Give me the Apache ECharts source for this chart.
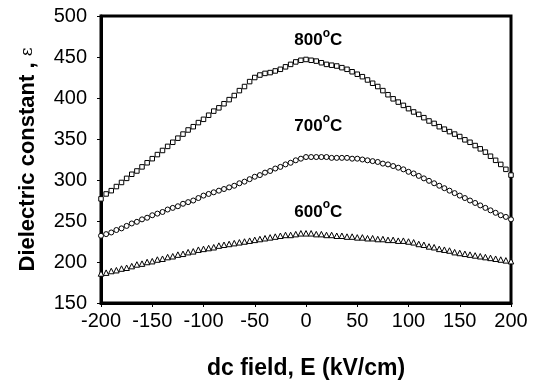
<!DOCTYPE html>
<html>
<head>
<meta charset="utf-8">
<script src="https://cdn.jsdelivr.net/npm/echarts@6/dist/echarts.min.js"></script>
<style>
  html, body { margin: 0; padding: 0; background: #fff; }
  #chart { width: 537px; height: 385px; }
</style>
</head>
<body>
<div id="chart"></div>
<script>
// dc field, kV/cm
var fields = [
  -200, -195, -190, -185, -180, -175, -170, -165, -160, -155, -150, -145, -140, -135, -130, -125, -120, -115, -110, -105,
  -100, -95, -90, -85, -80, -75, -70, -65, -60, -55, -50, -45, -40, -35, -30, -25, -20, -15, -10, -5,
  0, 5, 10, 15, 20, 25, 30, 35, 40, 45, 50, 55, 60, 65, 70, 75, 80, 85, 90, 95,
  100, 105, 110, 115, 120, 125, 130, 135, 140, 145, 150, 155, 160, 165, 170, 175, 180, 185, 190, 195, 200
];

var eps800 = [
  277, 283, 287, 292, 297, 302, 307, 311, 316, 321, 326, 331, 336, 341, 346, 351, 356, 361, 365, 370,
  374, 379, 384, 388, 393, 398, 403, 409, 414, 420, 425, 428, 430, 431, 433, 435, 438, 441, 444, 446,
  447, 446, 445, 443, 441, 440, 439, 437, 435, 432, 429, 426, 422, 418, 414, 409, 404, 399, 395, 391,
  387, 383, 380, 376, 372, 369, 365, 362, 359, 356, 353, 349, 346, 342, 338, 334, 329, 324, 319, 313, 306
];

var eps700 = [
  232, 234, 236, 239, 241, 244, 247, 249, 252, 254, 257, 259, 261, 264, 266, 268, 271, 273, 275, 278,
  281, 283, 285, 287, 289, 291, 293, 296, 298, 301, 304, 306, 309, 311, 314, 316, 319, 321, 324, 326,
  328, 328, 328, 328, 328, 327, 327, 327, 327, 326, 326, 325, 324, 323, 322, 320, 319, 317, 315, 313,
  310, 308, 305, 302, 299, 296, 293, 290, 287, 284, 281, 278, 275, 272, 269, 266, 263, 260, 257, 255, 252
];

var eps600 = [
  186, 187, 189, 190, 192, 193, 195, 197, 198, 200, 201, 203, 204, 206, 207, 209, 210, 212, 213, 215,
  216, 217, 218, 220, 221, 222, 223, 224, 225, 226, 227, 228, 229, 230, 231, 232, 233, 233, 234, 235,
  235, 235, 234, 234, 233, 233, 232, 232, 231, 231, 230, 230, 229, 229, 228, 228, 227, 227, 226, 226,
  225, 224, 222, 221, 219, 218, 216, 215, 214, 212, 211, 210, 209, 208, 207, 206, 205, 204, 203, 202, 201
];

// curve labels: [temperature, field, epsilon] where the label sits
var tempLabels = [
  ['800', 12, 470],
  ['700', 12, 366],
  ['600', 12, 261]
];

var font = "'Liberation Sans', Arial, sans-serif";

function pairs(vals) {
  return fields.map(function (f, i) { return [f, vals[i]]; });
}

function makeSeries(name, vals, symbol, size, lbl) {
  return {
    name: name,
    type: 'line',
    data: pairs(vals),
    symbol: symbol,
    symbolSize: size,
    showSymbol: true,
    lineStyle: { opacity: 0 },
    itemStyle: { color: '#fff', borderColor: '#000', borderWidth: 1 },
    silent: true,
    animation: false,
    markPoint: {
      symbol: 'circle',
      symbolSize: 0,
      data: [{ coord: [lbl[1], lbl[2]], value: lbl[0] }],
      label: {
        show: true,
        position: 'inside',
        formatter: '{n|' + lbl[0] + '}{s|o}{n|C}',
        rich: {
          n: { fontFamily: font, fontWeight: 'bold', fontSize: 17, color: '#000', lineHeight: 18 },
          s: { fontFamily: font, fontWeight: 'bold', fontSize: 12, color: '#000', padding: [0, 0, 14, 0] }
        }
      }
    }
  };
}

var chart = echarts.init(document.getElementById('chart'));

var option = {
  backgroundColor: '#fff',
  animation: false,
  grid: {
    left: 101, right: 26, top: 16, bottom: 81,
    show: true, borderColor: '#000', borderWidth: 3
  },
  xAxis: {
    type: 'value',
    min: -200, max: 200, interval: 50,
    name: 'dc field, E (kV/cm)',
    nameLocation: 'middle',
    nameGap: 54,
    nameTextStyle: { fontFamily: font, fontWeight: 'bold', fontSize: 23, color: '#000' },
    axisLine: { show: true, onZero: false, lineStyle: { color: '#000', width: 3 } },
    axisTick: { show: true, inside: false, length: 4, lineStyle: { color: '#000', width: 1 } },
    axisLabel: { fontFamily: font, fontSize: 20, color: '#000', margin: 8 },
    splitLine: { show: false }
  },
  yAxis: {
    type: 'value',
    min: 150, max: 500, interval: 50,
    name: '{a|Dielectric constant , }{b|ε}',
    nameLocation: 'middle',
    nameGap: 62,
    nameTextStyle: {
      rich: {
        a: { fontFamily: font, fontWeight: 'bold', fontSize: 22, color: '#000' },
        b: { fontFamily: "'DejaVu Serif', serif", fontSize: 17, color: '#000' }
      }
    },
    axisLine: { show: true, onZero: false, lineStyle: { color: '#000', width: 3 } },
    axisTick: { show: true, inside: false, length: 4, lineStyle: { color: '#000', width: 1 } },
    axisLabel: { fontFamily: font, fontSize: 20, color: '#000', margin: 14 },
    splitLine: { show: false }
  },
  series: [
    makeSeries('800', eps800, 'rect', 4.5, tempLabels[0]),
    makeSeries('700', eps700, 'circle', 5, tempLabels[1]),
    makeSeries('600', eps600, 'triangle', 5.5, tempLabels[2])
  ]
};

chart.setOption(option);
</script>
</body>
</html>
